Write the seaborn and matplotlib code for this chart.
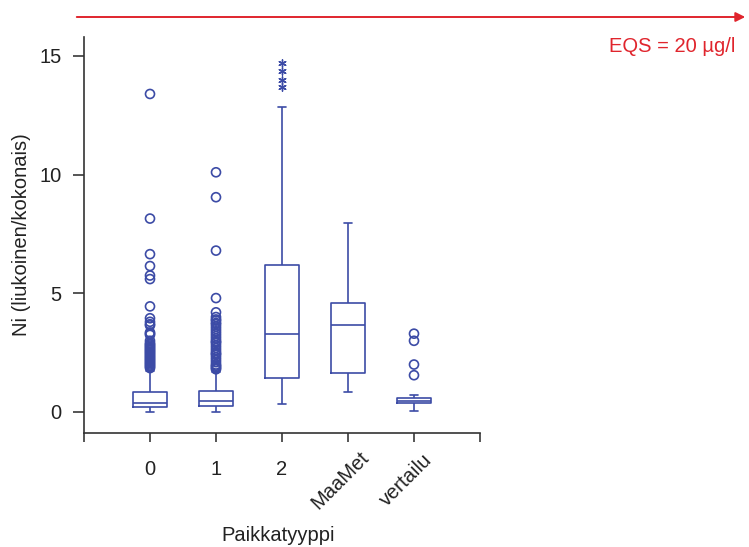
import numpy as np
import pandas as pd
import seaborn as sns
import matplotlib.pyplot as plt
from matplotlib.patches import FancyArrowPatch
from matplotlib.transforms import ScaledTranslation

# Categories (Paikkatyyppi)
categories = ["0", "1", "2", "MaaMet", "vertailu"]

# Five-number summary per category: lower whisker, Q1, median, Q3, upper whisker
whisker_low = [0.00, 0.00, 0.34, 0.84, 0.05]
quart_low = [0.21, 0.25, 1.43, 1.64, 0.38]
medians = [0.38, 0.46, 3.30, 3.66, 0.46]
quart_high = [0.84, 0.88, 6.20, 4.59, 0.57]
whisker_high = [1.73, 1.68, 12.85, 7.96, 0.72]

# Outliers (circles)
outliers_0 = [13.4, 8.15, 6.65, 6.15, 5.75, 5.6, 4.45, 3.95, 3.8, 3.7, 3.65,
              3.35, 3.3, 3.25, 3.0, 2.9, 2.85, 2.8, 2.75, 2.7, 2.65, 2.6, 2.55,
              2.5, 2.45, 2.4, 2.35, 2.3, 2.25, 2.2, 2.15, 2.1, 2.05, 2.0, 1.95,
              1.9, 1.85]
outliers_1 = [10.1, 9.05, 6.8, 4.8, 4.2, 4.0, 3.9, 3.85, 3.75, 3.7, 3.6, 3.5,
              3.4, 3.3, 3.2, 3.1, 3.0, 2.95, 2.9, 2.8, 2.7, 2.6, 2.5, 2.45, 2.4,
              2.3, 2.2, 2.1, 2.0, 1.95, 1.9, 1.85, 1.8]
outliers_vertailu = [3.3, 3.0, 2.0, 1.55]
# Extreme values (asterisks)
extremes_2 = [14.7, 14.35, 14.0, 13.7]

blue = "#3C4BA6"
red = "#E0252D"
font_size = 14.5

sns.set_style("white")
plt.rcParams["font.family"] = ["Liberation Sans", "DejaVu Sans"]

# Box data: five numbers per category give exact quartiles and whisker ends
box_df = pd.DataFrame({
    "Paikkatyyppi": np.repeat(categories, 5),
    "value": np.column_stack([whisker_low, quart_low, medians,
                              quart_high, whisker_high]).ravel(),
})

fig = plt.figure(figsize=(7.49, 5.47), dpi=100)
ax = fig.add_axes([84 / 749, 1 - 433 / 547, 396 / 749, 396 / 547])

sns.boxplot(data=box_df, x="Paikkatyyppi", y="value", order=categories,
            fill=False, color=blue, linecolor=blue, linewidth=1.2,
            width=0.52, whis=(0, 100), showfliers=False, capwidths=0.12,
            ax=ax)

# Outliers as open circles
circ_x, circ_y = [], []
for cat, vals in [("0", outliers_0), ("1", outliers_1),
                  ("vertailu", outliers_vertailu)]:
    circ_x += [categories.index(cat)] * len(vals)
    circ_y += vals
sns.scatterplot(x=circ_x, y=circ_y, marker="o", s=42, facecolor="none",
                edgecolor=blue, linewidth=1.2, ax=ax)

# Extremes as asterisks
sns.scatterplot(x=[categories.index("2")] * len(extremes_2), y=extremes_2,
                marker=(6, 2, 0), s=28, color=blue, edgecolor=blue,
                linewidth=1.0, ax=ax)

ax.set_xlim(-1, 5)
ax.set_ylim(-0.885, 15.8)
ax.set_xticks(range(-1, 6))
ax.set_xticklabels([""] + categories + [""])
ax.set_yticks([0, 5, 10, 15])

for side in ["top", "right"]:
    ax.spines[side].set_visible(False)
for side in ["left", "bottom"]:
    ax.spines[side].set_color("#333333")
    ax.spines[side].set_linewidth(1.2)

ax.tick_params(axis="y", left=True, direction="out", length=8, width=1.4,
               color="#555555", pad=8, labelsize=font_size, labelcolor="#222222")
ax.tick_params(axis="x", bottom=True, direction="out", length=6.5, width=1.4,
               color="#555555", pad=13, labelsize=font_size, labelcolor="#222222")

for lbl in ax.get_xticklabels():
    if lbl.get_text() in ("MaaMet", "vertailu"):
        lbl.set_rotation(45)
        lbl.set_va("center")
        lbl.set_ha("center")
        lbl.set_transform(lbl.get_transform()
                          + ScaledTranslation(-0.08, -0.20, fig.dpi_scale_trans))

ax.set_xlabel("Paikkatyyppi", fontsize=font_size, color="#222222")
ax.set_ylabel("Ni (liukoinen/kokonais)", fontsize=font_size, color="#222222",
              labelpad=6)
ax.xaxis.set_label_coords(0.49, -0.235)

# EQS indicator: off-chart reference level
fig.patches.append(FancyArrowPatch(
    (74 / 749, 1 - 17 / 547), (748 / 749, 1 - 17 / 547),
    transform=fig.transFigure, arrowstyle="-|>", mutation_scale=14,
    color=red, linewidth=1.4))
fig.text(735 / 749, 1 - 47 / 547, "EQS = 20 µg/l", color=red,
         fontsize=font_size, ha="right", va="center")

fig.savefig("out.png", dpi=100)
